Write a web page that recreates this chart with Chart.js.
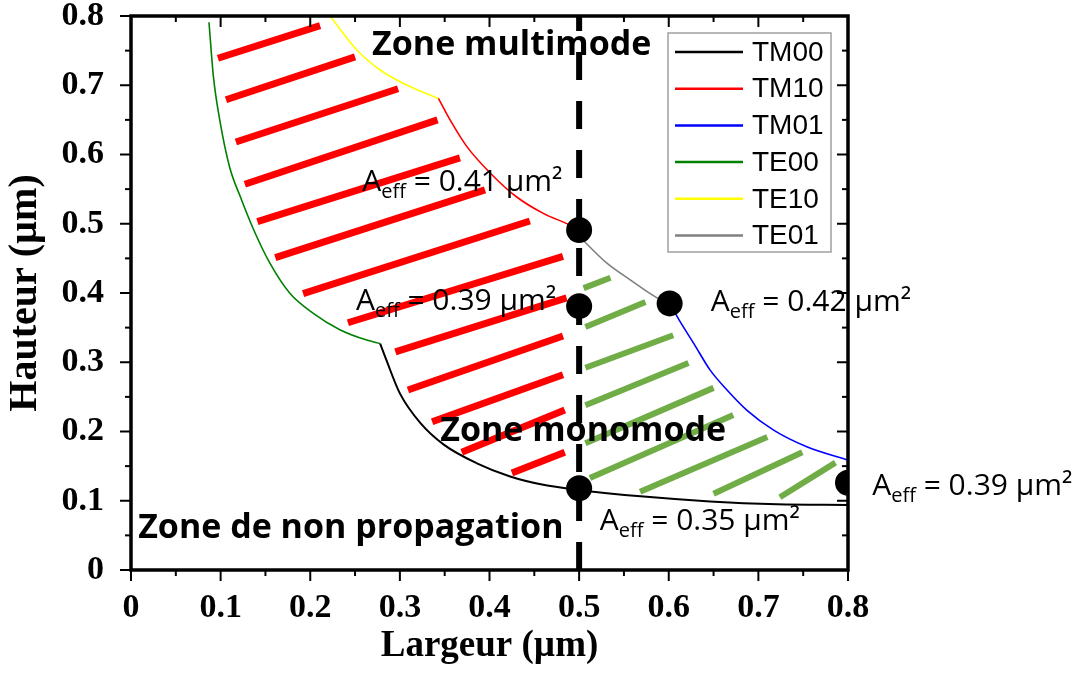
<!DOCTYPE html>
<html>
<head>
<meta charset="utf-8">
<script src="https://cdn.jsdelivr.net/npm/chart.js@4.4.1/dist/chart.umd.min.js"></script>
<style>
  html, body { margin: 0; padding: 0; background: #fff; }
  #wrap { width: 1082px; height: 675px; position: relative; }
</style>
</head>
<body>
<div id="wrap"><canvas id="modeChart"></canvas></div>
<script>
// axis ticks
const xTickLabels = ["0", "0.1", "0.2", "0.3", "0.4", "0.5", "0.6", "0.7", "0.8"];
const yTickLabels = ["0", "0.1", "0.2", "0.3", "0.4", "0.5", "0.6", "0.7", "0.8"];

// cut-off curves, [largeur, hauteur] in µm
const tm00 = [[0.278, 0.327], [0.285, 0.303], [0.300, 0.255], [0.323, 0.212], [0.349, 0.181], [0.386, 0.154],
  [0.423, 0.135], [0.460, 0.123], [0.497, 0.116], [0.572, 0.106], [0.646, 0.099], [0.721, 0.095], [0.799, 0.094]];
const tm10 = [[0.343, 0.681], [0.356, 0.650], [0.375, 0.611], [0.401, 0.573], [0.430, 0.539], [0.460, 0.515],
  [0.490, 0.498], [0.500, 0.491]];
const tm01 = [[0.601, 0.385], [0.612, 0.360], [0.628, 0.327], [0.646, 0.289], [0.665, 0.260], [0.687, 0.231],
  [0.717, 0.202], [0.754, 0.178], [0.799, 0.159]];
const te00 = [[0.087, 0.791], [0.092, 0.712], [0.099, 0.650], [0.110, 0.582], [0.122, 0.539], [0.137, 0.491],
  [0.155, 0.443], [0.177, 0.400], [0.203, 0.371], [0.233, 0.347], [0.263, 0.332], [0.278, 0.327]];
const te10 = [[0.222, 0.800], [0.252, 0.751], [0.278, 0.722], [0.308, 0.700], [0.343, 0.681]];
const te01 = [[0.500, 0.482], [0.531, 0.443], [0.557, 0.419], [0.587, 0.393], [0.601, 0.385]];

// marked points (black dots)
const dotsX = [0.5, 0.5, 0.601, 0.5, 0.8];
const dotsY = [0.491, 0.381, 0.385, 0.118, 0.126];

// hatching segments [x1, y1, x2, y2]
const redHatch = [
  [0.097, 0.739, 0.211, 0.786], [0.106, 0.679, 0.250, 0.741], [0.117, 0.618, 0.298, 0.695],
  [0.127, 0.557, 0.342, 0.650], [0.141, 0.503, 0.367, 0.595], [0.161, 0.451, 0.395, 0.549],
  [0.192, 0.399, 0.445, 0.504], [0.242, 0.357, 0.482, 0.453], [0.295, 0.315, 0.486, 0.393],
  [0.309, 0.260, 0.482, 0.338], [0.336, 0.214, 0.482, 0.282], [0.369, 0.170, 0.484, 0.231],
  [0.425, 0.140, 0.484, 0.170]
];
const greenHatch = [
  [0.505, 0.407, 0.535, 0.422], [0.507, 0.351, 0.574, 0.387], [0.507, 0.292, 0.605, 0.339],
  [0.507, 0.238, 0.622, 0.299], [0.507, 0.183, 0.650, 0.263], [0.512, 0.133, 0.672, 0.224],
  [0.568, 0.113, 0.710, 0.192], [0.650, 0.110, 0.749, 0.170], [0.724, 0.105, 0.786, 0.155]
];

// texts
const zoneLabels = [
  { text: "Zone multimode", x: 0.269, y: 0.744 },
  { text: "Zone monomode", x: 0.345, y: 0.186 },
  { text: "Zone de non propagation", x: 0.008, y: 0.046 }
];
const aeffLabels = [
  { value: "0.41", x: 0.258, y: 0.547 },
  { value: "0.39", x: 0.251, y: 0.376 },
  { value: "0.42", x: 0.647, y: 0.374 },
  { value: "0.39", x: 0.827, y: 0.108 },
  { value: "0.35", x: 0.523, y: 0.058 }
];

const curves = [
  { name: "TM00", data: tm00, color: "#000000", width: 2 },
  { name: "TM10", data: tm10, color: "#ff0000", width: 1.6 },
  { name: "TM01", data: tm01, color: "#0000ff", width: 1.6 },
  { name: "TE00", data: te00, color: "#008000", width: 1.6 },
  { name: "TE10", data: te10, color: "#ffff00", width: 1.6 },
  { name: "TE01", data: te01, color: "#808080", width: 1.6 }
];

function toPoints(pairs) {
  return pairs.map(([x, y]) => ({ x, y }));
}

function segmentsToPoints(segs) {
  const pts = [];
  segs.forEach(([x1, y1, x2, y2]) => {
    pts.push({ x: x1, y: y1 }, { x: x2, y: y2 }, { x: x2, y: null });
  });
  return pts;
}

const datasets = [
  {
    data: dotsX.map((x, i) => ({ x, y: dotsY[i] })),
    showLine: false, pointRadius: 13, pointBackgroundColor: "#000", pointBorderWidth: 0, order: 0
  },
  {
    data: [{ x: 0.5, y: 0 }, { x: 0.5, y: 0.8 }],
    borderColor: "#000", borderWidth: 6, borderDash: [28, 21], pointRadius: 0, order: 1
  },
  ...curves.map((c) => ({
    data: toPoints(c.data), borderColor: c.color, borderWidth: c.width,
    pointRadius: 0, cubicInterpolationMode: "monotone", order: 2
  })),
  {
    data: segmentsToPoints(redHatch), borderColor: "#ff0000", borderWidth: 7,
    pointRadius: 0, spanGaps: false, order: 3
  },
  {
    data: segmentsToPoints(greenHatch), borderColor: "#70ad47", borderWidth: 6,
    pointRadius: 0, spanGaps: false, order: 3
  }
];

// frame with inward ticks on top/right, outward on left/bottom
const frameTicks = {
  id: "frameTicks",
  afterDatasetsDraw(chart) {
    const { ctx, chartArea: a, scales: { x, y } } = chart;
    ctx.save();
    ctx.strokeStyle = "#000";
    ctx.lineWidth = 2;
    const seg = (x1, y1, x2, y2) => {
      ctx.beginPath(); ctx.moveTo(x1, y1); ctx.lineTo(x2, y2); ctx.stroke();
    };
    const xs = xTickLabels.map(Number);
    const ys = yTickLabels.map(Number);
    xs.forEach((v, i) => {
      const px = x.getPixelForValue(v);
      seg(px, a.bottom, px, a.bottom + 11);
      seg(px, a.top, px, a.top + 11);
      if (i < xs.length - 1) {
        const mx = x.getPixelForValue((v + xs[i + 1]) / 2);
        seg(mx, a.bottom, mx, a.bottom + 6);
        seg(mx, a.top, mx, a.top + 6);
      }
    });
    ys.forEach((v, i) => {
      const py = y.getPixelForValue(v);
      seg(a.left - 11, py, a.left, py);
      seg(a.right - 11, py, a.right, py);
      if (i < ys.length - 1) {
        const my = y.getPixelForValue((v + ys[i + 1]) / 2);
        seg(a.left - 6, my, a.left, my);
        seg(a.right - 6, my, a.right, my);
      }
    });
    ctx.lineWidth = 3.5;
    ctx.strokeRect(a.left, a.top, a.right - a.left, a.bottom - a.top);
    ctx.restore();
  }
};

function drawAeff(ctx, px, py, value) {
  ctx.font = '30px "Open Sans"';
  ctx.fillText("A", px, py);
  let w = ctx.measureText("A").width;
  ctx.font = '20px "Open Sans"';
  ctx.fillText("eff", px + w, py + 7);
  w += ctx.measureText("eff").width;
  ctx.font = '30px "Open Sans"';
  ctx.fillText(" = " + value + " µm²", px + w, py);
}

const textLayer = {
  id: "textLayer",
  afterDraw(chart) {
    const { ctx, chartArea: a, scales: { x, y } } = chart;
    ctx.save();
    ctx.fillStyle = "#000";
    ctx.textBaseline = "alphabetic";
    ctx.textAlign = "left";
    ctx.font = 'bold 34px "Open Sans"';
    zoneLabels.forEach((l) => ctx.fillText(l.text, x.getPixelForValue(l.x), y.getPixelForValue(l.y)));
    aeffLabels.forEach((l) => drawAeff(ctx, x.getPixelForValue(l.x), y.getPixelForValue(l.y), l.value));

    // legend box
    const bx = a.right - 180, by = a.top + 17, bw = 163, bh = 219;
    ctx.fillStyle = "#fff";
    ctx.fillRect(bx, by, bw, bh);
    ctx.strokeStyle = "#a0a0a0";
    ctx.lineWidth = 1.5;
    ctx.strokeRect(bx, by, bw, bh);
    ctx.font = '28px "Liberation Sans"';
    ctx.textBaseline = "middle";
    curves.forEach((c, i) => {
      const ry = by + 19 + i * 36.7;
      ctx.strokeStyle = c.color;
      ctx.lineWidth = 2.5;
      ctx.beginPath(); ctx.moveTo(bx + 7, ry); ctx.lineTo(bx + 75, ry); ctx.stroke();
      ctx.fillStyle = "#000";
      ctx.fillText(c.name, bx + 84, ry + 1);
    });
    ctx.restore();
  }
};

const tickFont = { family: "Liberation Serif", size: 34, weight: "bold" };

new Chart(document.getElementById("modeChart"), {
  type: "line",
  data: { datasets },
  options: {
    responsive: true,
    maintainAspectRatio: false,
    animation: false,
    layout: { padding: { left: 0, top: 16, right: 234, bottom: 0 } },
    plugins: { legend: { display: false }, tooltip: { enabled: false } },
    scales: {
      x: {
        type: "linear", min: 0, max: 0.8,
        afterFit: (s) => { s.height = 105; s.paddingLeft = 0; s.paddingRight = 0; },
        grid: { display: false }, border: { display: false },
        ticks: {
          stepSize: 0.1, padding: 10, color: "#000", font: tickFont, maxRotation: 0,
          callback: (v) => xTickLabels[Math.round(v * 10)]
        },
        title: {
          display: true, text: "Largeur (µm)", color: "#000",
          font: { family: "Liberation Serif", size: 37, weight: "bold" },
          padding: { top: 0, bottom: 6 }
        }
      },
      y: {
        type: "linear", min: 0, max: 0.8,
        afterFit: (s) => { s.width = 131; s.paddingTop = 0; s.paddingBottom = 0; },
        grid: { display: false }, border: { display: false },
        ticks: {
          stepSize: 0.1, padding: 19, color: "#000", font: tickFont,
          callback: (v) => yTickLabels[Math.round(v * 10)]
        },
        title: {
          display: true, text: "Hauteur (µm)", color: "#000",
          font: { family: "Liberation Serif", size: 40, weight: "bold" },
          padding: { top: 2, bottom: 0 }
        }
      }
    }
  },
  plugins: [frameTicks, textLayer]
});
</script>
</body>
</html>
